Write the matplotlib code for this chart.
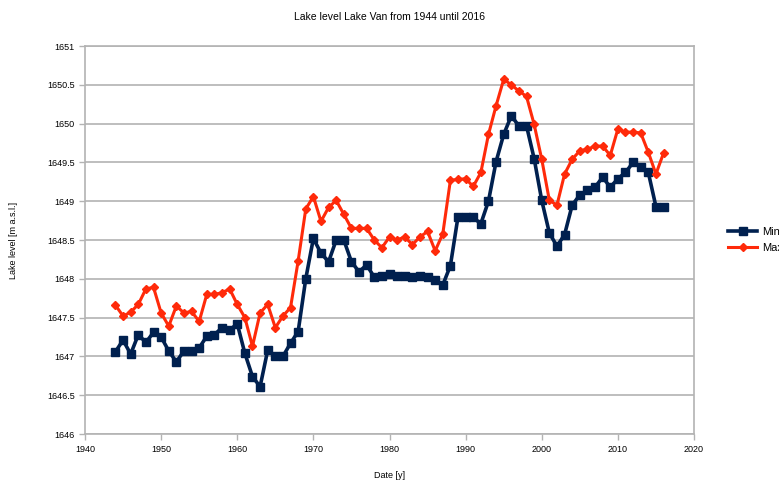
import matplotlib.pyplot as plt
import numpy as np

plt.rcParams['font.family'] = ['Liberation Sans', 'DejaVu Sans']

# Lata pomiarow
years = list(range(1944, 2017))

# Poziom minimalny jeziora
level_min = [
    1647.06, 1647.21, 1647.03, 1647.28, 1647.18, 1647.31, 1647.25, 1647.07, 1646.93, 1647.07,
    1647.07, 1647.11, 1647.26, 1647.28, 1647.37, 1647.34, 1647.42, 1647.04, 1646.74, 1646.61,
    1647.08, 1647.00, 1647.00, 1647.17, 1647.32, 1648.00, 1648.52, 1648.33, 1648.22, 1648.50,
    1648.50, 1648.22, 1648.09, 1648.18, 1648.02, 1648.04, 1648.06, 1648.03, 1648.03, 1648.02,
    1648.03, 1648.02, 1647.99, 1647.92, 1648.17, 1648.80, 1648.79, 1648.79, 1648.71, 1649.00,
    1649.51, 1649.86, 1650.10, 1649.97, 1649.97, 1649.55, 1649.01, 1648.59, 1648.42, 1648.57,
    1648.95, 1649.08, 1649.14, 1649.18, 1649.31, 1649.18, 1649.29, 1649.37, 1649.50, 1649.44,
    1649.37, 1648.93, 1648.93,
]

# Poziom maksymalny jeziora
level_max = [
    1647.66, 1647.52, 1647.57, 1647.67, 1647.87, 1647.89, 1647.56, 1647.39, 1647.65, 1647.56,
    1647.58, 1647.45, 1647.80, 1647.80, 1647.82, 1647.87, 1647.67, 1647.50, 1647.13, 1647.56,
    1647.67, 1647.37, 1647.52, 1647.63, 1648.23, 1648.90, 1649.06, 1648.74, 1648.92, 1649.01,
    1648.83, 1648.65, 1648.65, 1648.65, 1648.50, 1648.40, 1648.54, 1648.50, 1648.54, 1648.44,
    1648.54, 1648.61, 1648.36, 1648.58, 1649.27, 1649.28, 1649.29, 1649.19, 1649.37, 1649.86,
    1650.23, 1650.57, 1650.50, 1650.42, 1650.35, 1649.99, 1649.54, 1649.01, 1648.95, 1649.35,
    1649.54, 1649.65, 1649.67, 1649.71, 1649.71, 1649.59, 1649.93, 1649.89, 1649.89, 1649.88,
    1649.63, 1649.35, 1649.62,
]

fig = plt.figure(figsize=(7.79, 4.83), dpi=100)
ax = fig.add_axes([85 / 779, 1 - 434 / 483, (694 - 85) / 779, (434 - 46) / 483])

ax.plot(years, level_min, color='#00204f', linewidth=2.6, marker='s', markersize=5.5, label='Min')
ax.plot(years, level_max, color='#ff2a0a', linewidth=2.2, marker='D', markersize=4, label='Max')

ax.set_xlim(1940, 2020)
ax.set_ylim(1646, 1651)
ax.set_xticks(np.arange(1940, 2021, 10))
ax.set_yticks(np.arange(1646, 1651.01, 0.5))
ax.set_yticklabels(['1646', '1646.5', '1647', '1647.5', '1648', '1648.5',
                    '1649', '1649.5', '1650', '1650.5', '1651'])

# Siatka i ramka
ax.grid(axis='y', color='#b3b3b3', linewidth=1.2)
ax.set_axisbelow(True)
for s in ax.spines.values():
    s.set_color('#b3b3b3')
    s.set_linewidth(1.2)
ax.tick_params(axis='both', labelsize=6.5, color='#b3b3b3', length=4, width=1)
ax.tick_params(axis='x', pad=4)

ax.set_title('Lake level Lake Van from 1944 until 2016', fontsize=7.5, pad=19)
ax.set_xlabel('Date [y]', fontsize=6.5, labelpad=12)
ax.set_ylabel('Lake level [m a.s.l.]', fontsize=6.5, labelpad=21)

ax.legend(loc='center left', bbox_to_anchor=(1.04, 0.5), frameon=False, fontsize=8,
          handlelength=2.6, handletextpad=0.4, labelspacing=0.5)

fig.savefig('out.png', dpi=100)
